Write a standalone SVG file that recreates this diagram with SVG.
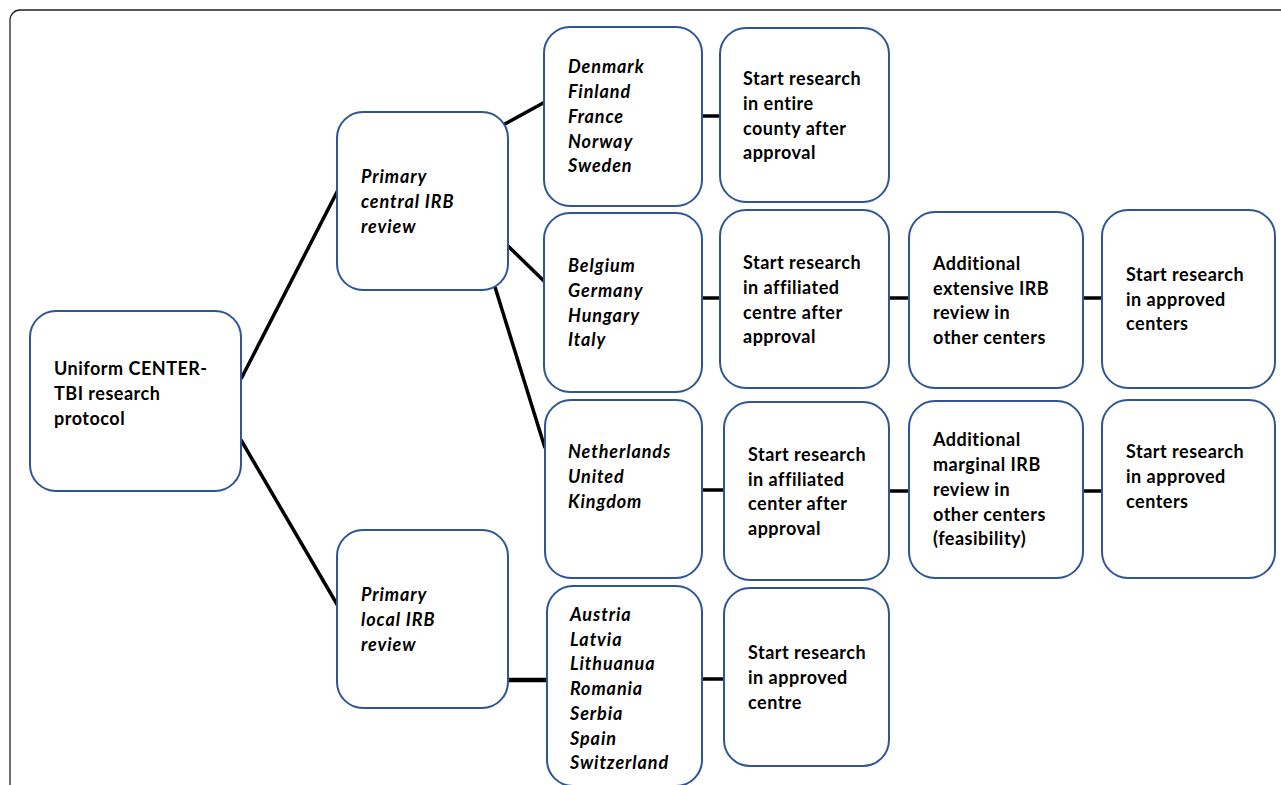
<svg xmlns="http://www.w3.org/2000/svg" width="1281" height="785" viewBox="0 0 1281 785">
<style>
.frame{fill:#fff;stroke:#222;stroke-width:1.3}
.box{fill:#fff;stroke:#2f5597;stroke-width:2}
.t{font-family:Lato,"Open Sans","Liberation Sans",sans-serif;font-weight:bold;font-size:18px;letter-spacing:0.5px;fill:#000}
.i{font-style:italic;letter-spacing:0.9px}
.c line{stroke:#000;stroke-width:3.5}
</style>
<rect width="1281" height="785" fill="#fff"/>
<rect class="frame" x="10" y="10" width="1290" height="800" rx="10"/>
<g class="c" id="connectors">
<line x1="241" y1="379" x2="338" y2="190"/>
<line x1="241" y1="440" x2="338" y2="606"/>
<line x1="503" y1="125" x2="545" y2="102"/>
<line x1="508" y1="246" x2="545" y2="282"/>
<line x1="495" y1="287" x2="545" y2="448"/>
<line x1="702" y1="116" x2="720" y2="116"/>
<line x1="702" y1="298" x2="720" y2="298"/>
<line x1="889" y1="298" x2="909" y2="298"/>
<line x1="1083" y1="298" x2="1102" y2="298"/>
<line x1="702" y1="490" x2="724" y2="490"/>
<line x1="889" y1="491" x2="909" y2="491"/>
<line x1="1083" y1="491" x2="1102" y2="491"/>
<line x1="508" y1="680" x2="547" y2="680" style="stroke-width:4.5"/>
<line x1="702" y1="679" x2="724" y2="679"/>
</g>
<g id="n-uniform"><rect class="box" x="30" y="311" width="211" height="180" rx="26"/>
<text class="t" x="54"><tspan x="54" y="375">Uniform CENTER-</tspan><tspan x="54" y="400">TBI research</tspan><tspan x="54" y="425">protocol</tspan></text></g>
<g id="n-central"><rect class="box" x="337" y="112" width="171" height="178" rx="26"/>
<text class="t i"><tspan x="361" y="183">Primary</tspan><tspan x="361" y="208">central IRB</tspan><tspan x="361" y="233">review</tspan></text></g>
<g id="n-local"><rect class="box" x="337" y="530" width="171" height="178" rx="26"/>
<text class="t i"><tspan x="361" y="601">Primary</tspan><tspan x="361" y="626">local IRB</tspan><tspan x="361" y="651">review</tspan></text></g>
<g id="n-nordic"><rect class="box" x="544" y="27" width="158" height="179" rx="26"/>
<text class="t i"><tspan x="568" y="73">Denmark</tspan><tspan x="568" y="98">Finland</tspan><tspan x="568" y="123">France</tspan><tspan x="568" y="148">Norway</tspan><tspan x="568" y="172">Sweden</tspan></text></g>
<g id="n-start-entire"><rect class="box" x="720" y="28" width="169" height="174" rx="26"/>
<text class="t"><tspan x="743" y="85">Start research</tspan><tspan x="743" y="110">in entire</tspan><tspan x="743" y="135">county after</tspan><tspan x="743" y="159">approval</tspan></text></g>
<g id="n-belgium"><rect class="box" x="544" y="213" width="158" height="179" rx="26"/>
<text class="t i"><tspan x="568" y="272">Belgium</tspan><tspan x="568" y="297">Germany</tspan><tspan x="568" y="322">Hungary</tspan><tspan x="568" y="346">Italy</tspan></text></g>
<g id="n-start-aff1"><rect class="box" x="720" y="210" width="169" height="178" rx="26"/>
<text class="t"><tspan x="743" y="269">Start research</tspan><tspan x="743" y="294">in affiliated</tspan><tspan x="743" y="319">centre after</tspan><tspan x="743" y="343">approval</tspan></text></g>
<g id="n-add-ext"><rect class="box" x="909" y="212" width="174" height="176" rx="26"/>
<text class="t"><tspan x="933" y="270">Additional</tspan><tspan x="933" y="295">extensive IRB</tspan><tspan x="933" y="319">review in</tspan><tspan x="933" y="344">other centers</tspan></text></g>
<g id="n-start-app1"><rect class="box" x="1102" y="210" width="173" height="178" rx="26"/>
<text class="t"><tspan x="1126" y="281">Start research</tspan><tspan x="1126" y="306">in approved</tspan><tspan x="1126" y="330">centers</tspan></text></g>
<g id="n-nl"><rect class="box" x="545" y="400" width="157" height="178" rx="26"/>
<text class="t i"><tspan x="568" y="458">Netherlands</tspan><tspan x="568" y="483">United</tspan><tspan x="568" y="508">Kingdom</tspan></text></g>
<g id="n-start-aff2"><rect class="box" x="724" y="402" width="165" height="178" rx="26"/>
<text class="t"><tspan x="748" y="461">Start research</tspan><tspan x="748" y="486">in affiliated</tspan><tspan x="748" y="510">center after</tspan><tspan x="748" y="535">approval</tspan></text></g>
<g id="n-add-marg"><rect class="box" x="909" y="401" width="174" height="177" rx="26"/>
<text class="t"><tspan x="933" y="446">Additional</tspan><tspan x="933" y="471">marginal IRB</tspan><tspan x="933" y="496">review in</tspan><tspan x="933" y="521">other centers</tspan><tspan x="933" y="545">(feasibility)</tspan></text></g>
<g id="n-start-app2"><rect class="box" x="1102" y="400" width="173" height="178" rx="26"/>
<text class="t"><tspan x="1126" y="458">Start research</tspan><tspan x="1126" y="483">in approved</tspan><tspan x="1126" y="508">centers</tspan></text></g>
<g id="n-local-countries"><rect class="box" x="547" y="586" width="155" height="200" rx="26"/>
<text class="t i"><tspan x="570" y="621">Austria</tspan><tspan x="570" y="646">Latvia</tspan><tspan x="570" y="670">Lithuanua</tspan><tspan x="570" y="695">Romania</tspan><tspan x="570" y="720">Serbia</tspan><tspan x="570" y="745">Spain</tspan><tspan x="570" y="769">Switzerland</tspan></text></g>
<g id="n-start-centre"><rect class="box" x="724" y="588" width="165" height="178" rx="26"/>
<text class="t"><tspan x="748" y="659">Start research</tspan><tspan x="748" y="684">in approved</tspan><tspan x="748" y="709">centre</tspan></text></g>
</svg>
